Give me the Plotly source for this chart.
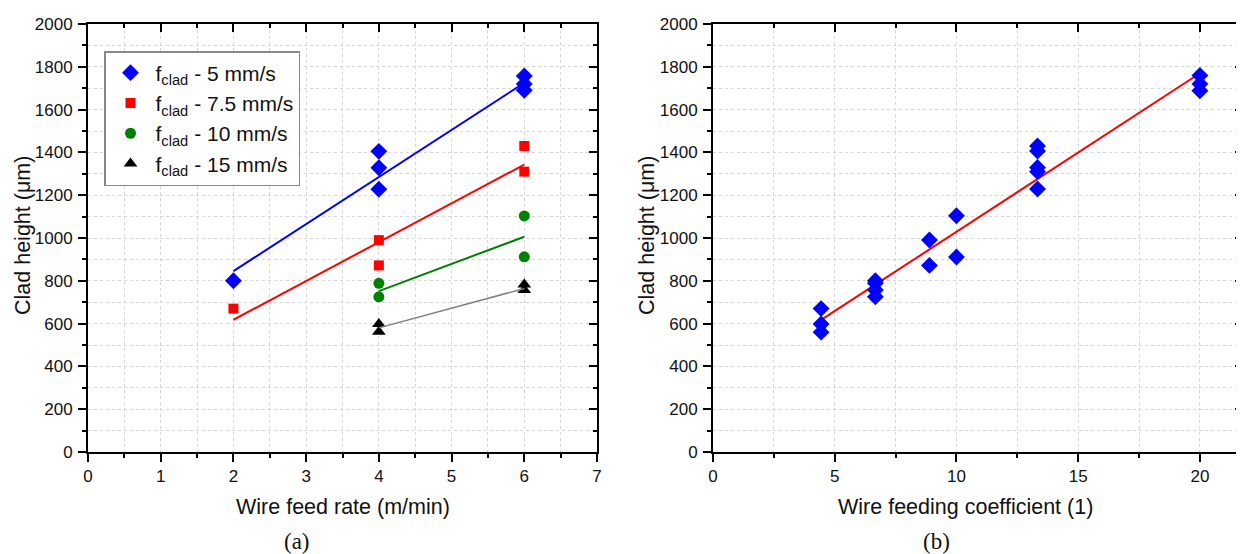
import plotly.graph_objects as go

# page is rendered with an 8px body margin; compensate
OFF = 8
W, H = 1244 - OFF, 554 - OFF

# ---------------- Panel (a) data ----------------
blue_rate = [2, 4, 4, 4, 6, 6, 6]
blue_height = [800, 1405, 1328, 1228, 1757, 1720, 1690]
red_rate = [2, 4, 4, 6, 6]
red_height = [670, 990, 872, 1430, 1310]
green_rate = [4, 4, 6, 6]
green_height = [788, 725, 1103, 912]
black_rate = [4, 4, 6, 6]
black_height = [598, 562, 783, 757]

fit_blue_x = [2, 6]
fit_blue_y = [845, 1725]
fit_red_x = [2, 6]
fit_red_y = [618, 1343]
fit_green_x = [4, 6]
fit_green_y = [752, 1006]
fit_black_x = [4, 6]
fit_black_y = [580, 764]

legend_names = ["f<sub>clad</sub> - 5 mm/s", "f<sub>clad</sub> - 7.5 mm/s",
                "f<sub>clad</sub> - 10 mm/s", "f<sub>clad</sub> - 15 mm/s"]

# ---------------- Panel (b) data ----------------
coef_x = [4.44, 4.44, 4.44, 6.67, 6.67, 6.67, 6.67, 8.89, 8.89, 10, 10,
          13.33, 13.33, 13.33, 13.33, 13.33, 20, 20, 20]
coef_height = [670, 598, 560, 800, 788, 757, 725, 991, 872, 1104, 911,
               1430, 1406, 1330, 1310, 1229, 1759, 1720, 1688]
fit_b_x = [4.44, 20]
fit_b_y = [617, 1770]

# ---------------- layout geometry (page pixels -> paper) ----------------
def px_x(p):
    return (p - OFF) / W

def px_y(p):
    return 1 - (p - OFF) / H

ydom = [px_y(452), px_y(24)]
xdom1 = [px_x(88), px_x(597)]
xdom2 = [px_x(713), min(1.0, px_x(1243))]

fig = go.Figure()

mk = dict(line=dict(width=0))
fig.add_trace(go.Scatter(x=blue_rate, y=blue_height, mode="markers", name=legend_names[0],
                         marker=dict(symbol="diamond", size=13, color="#0000ff", **mk),
                         xaxis="x", yaxis="y"))
fig.add_trace(go.Scatter(x=red_rate, y=red_height, mode="markers", name=legend_names[1],
                         marker=dict(symbol="square", size=10, color="#ff0000", **mk),
                         xaxis="x", yaxis="y"))
fig.add_trace(go.Scatter(x=green_rate, y=green_height, mode="markers", name=legend_names[2],
                         marker=dict(symbol="circle", size=11, color="#008000", **mk),
                         xaxis="x", yaxis="y"))
fig.add_trace(go.Scatter(x=black_rate, y=black_height, mode="markers", name=legend_names[3],
                         marker=dict(symbol="triangle-up", size=12, color="#000000", **mk),
                         xaxis="x", yaxis="y"))

for fx, fy, c, w in [(fit_blue_x, fit_blue_y, "#0000ff", 2),
                     (fit_red_x, fit_red_y, "#ff0000", 2),
                     (fit_green_x, fit_green_y, "#008000", 2),
                     (fit_black_x, fit_black_y, "#808080", 1.5)]:
    fig.add_trace(go.Scatter(x=fx, y=fy, mode="lines", line=dict(color=c, width=w),
                             showlegend=False, hoverinfo="skip", xaxis="x", yaxis="y"))

fig.add_trace(go.Scatter(x=fit_b_x, y=fit_b_y, mode="lines", line=dict(color="#ff0000", width=2),
                         showlegend=False, hoverinfo="skip", xaxis="x2", yaxis="y2"))
fig.add_trace(go.Scatter(x=coef_x, y=coef_height, mode="markers", showlegend=False,
                         marker=dict(symbol="diamond", size=13, color="#0000ff", **mk),
                         xaxis="x2", yaxis="y2"))

# dummy traces for mirrored inner-tick axes
for xa, ya in [("x3", "y3"), ("x4", "y4")]:
    fig.add_trace(go.Scatter(x=[None], y=[None], showlegend=False, hoverinfo="skip",
                             xaxis=xa, yaxis=ya))

tickfont = dict(family="Liberation Sans, Arial, sans-serif", size=17, color="#111111")
grid_col = "#d6d6d6"

def xaxis_main(dom, rng, dtick, minor_dtick, anchor):
    return dict(domain=dom, range=rng, anchor=anchor, dtick=dtick, tick0=0,
                showline=True, linecolor="black", linewidth=2, mirror=False,
                ticks="outside", ticklen=8, tickwidth=1.5, tickcolor="black",
                tickfont=tickfont, showgrid=True, gridcolor=grid_col, griddash="dot",
                gridwidth=1, zeroline=False, automargin=False,
                minor=dict(dtick=minor_dtick, tick0=0, ticks="outside", ticklen=4,
                           tickwidth=1.5, tickcolor="black", showgrid=True,
                           gridcolor=grid_col, griddash="dot", gridwidth=1))

def yaxis_main(anchor):
    return dict(domain=ydom, range=[0, 2000], anchor=anchor, dtick=200, tick0=0,
                showline=True, linecolor="black", linewidth=2,
                ticks="outside", ticklen=8, tickwidth=1.5, tickcolor="black",
                tickfont=tickfont, showgrid=True, gridcolor=grid_col, griddash="dot",
                gridwidth=1, zeroline=False, automargin=False, ticklabelstandoff=2,
                minor=dict(dtick=100, tick0=0, ticks="outside", ticklen=4,
                           tickwidth=1.5, tickcolor="black", showgrid=True,
                           gridcolor=grid_col, griddash="dot", gridwidth=1))

def xaxis_mirror(over, rng, dtick, minor_dtick, anchor):
    return dict(overlaying=over, side="top", anchor=anchor, range=rng, dtick=dtick, tick0=0,
                showline=True, linecolor="black", linewidth=2,
                ticks="inside", ticklen=8, tickwidth=1.5, tickcolor="black",
                showticklabels=False, showgrid=False, zeroline=False,
                minor=dict(dtick=minor_dtick, tick0=0, ticks="inside", ticklen=4,
                           tickwidth=1.5, tickcolor="black", showgrid=False))

def yaxis_mirror(over, anchor):
    return dict(overlaying=over, side="right", anchor=anchor, range=[0, 2000], dtick=200,
                tick0=0, showline=True, linecolor="black", linewidth=2,
                ticks="inside", ticklen=8, tickwidth=1.5, tickcolor="black",
                showticklabels=False, showgrid=False, zeroline=False,
                minor=dict(dtick=100, tick0=0, ticks="inside", ticklen=4,
                           tickwidth=1.5, tickcolor="black", showgrid=False))

xr1 = [0, 7]
xr2 = [0, 21.77]

fig.update_layout(
    width=W, height=H,
    margin=dict(l=0, r=0, t=0, b=0),
    paper_bgcolor="white", plot_bgcolor="white",
    template="none",
    xaxis=xaxis_main(xdom1, xr1, 1, 0.5, "y"),
    yaxis=yaxis_main("x"),
    xaxis2=xaxis_main(xdom2, xr2, 5, 2.5, "y2"),
    yaxis2=yaxis_main("x2"),
    xaxis3=xaxis_mirror("x", xr1, 1, 0.5, "y"),
    yaxis3=yaxis_mirror("y", "x"),
    xaxis4=xaxis_mirror("x2", xr2, 5, 2.5, "y2"),
    yaxis4=yaxis_mirror("y2", "x2"),
    showlegend=True,
    legend=dict(x=px_x(104), y=px_y(51), xanchor="left", yanchor="top",
                bgcolor="white", bordercolor="#888888", borderwidth=1.5,
                font=dict(family="Liberation Sans, Arial, sans-serif", size=21, color="#111111"),
                itemwidth=40, tracegroupgap=0),
)

title_font = dict(family="Liberation Sans, Arial, sans-serif", size=21.5, color="#111111")
cap_font = dict(family="Liberation Serif, Times New Roman, serif", size=23, color="#111111")
ann = [
    dict(text="Clad height (μm)", x=px_x(23), y=px_y(236), textangle=-90, font=title_font),
    dict(text="Wire feed rate (m/min)", x=px_x(343), y=px_y(507), font=title_font),
    dict(text="Clad height (μm)", x=px_x(647), y=px_y(236), textangle=-90, font=title_font),
    dict(text="Wire feeding coefficient (1)", x=px_x(966), y=px_y(507), font=title_font),
    dict(text="(a)", x=px_x(297), y=px_y(541), font=cap_font),
    dict(text="(b)", x=px_x(936), y=px_y(541), font=cap_font),
]
for a in ann:
    a.update(xref="paper", yref="paper", showarrow=False, xanchor="center", yanchor="middle")
fig.update_layout(annotations=ann)

fig.write_html("out.html")
